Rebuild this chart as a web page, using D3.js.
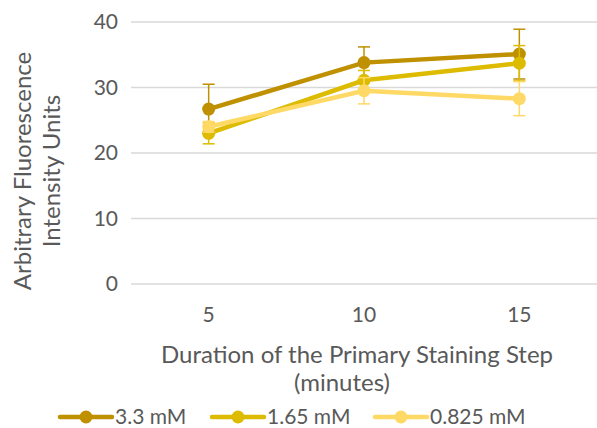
<!DOCTYPE html>
<html>
<head>
<meta charset="utf-8">
<script src="https://cdn.jsdelivr.net/npm/d3@7"></script>
<style>
body { margin: 0; background: #fff; }
text { font-family: Lato, "Open Sans", sans-serif; fill: #595959; }
</style>
</head>
<body>
<svg width="597" height="428"></svg>
<script>
// ================= DATA =================
const minutes = ["5", "10", "15"];
const seriesNames = ["3.3 mM", "1.65 mM", "0.825 mM"];
const values33 = [26.7, 33.8, 35.1];
const values165 = [23.0, 31.1, 33.7];
const values0825 = [24.0, 29.5, 28.3];
const err33 = [3.8, 2.4, 3.8];
const err165 = [1.6, 1.5, 2.7];
const err0825 = [0.8, 2.0, 2.6];
const yTicks = [0, 10, 20, 30, 40];
const colors = ["#bf9000", "#dcbb00", "#ffd966"];

const series = [
  { name: seriesNames[0], values: values33, err: err33, color: colors[0] },
  { name: seriesNames[1], values: values165, err: err165, color: colors[1] },
  { name: seriesNames[2], values: values0825, err: err0825, color: colors[2] }
];

// ================= LAYOUT =================
const svg = d3.select("svg");
const plotLeft = 131, plotRight = 597, plotTop = 22, plotBottom = 284;

const xs = d3.scaleBand().domain(minutes).range([plotLeft, plotRight]);
const ys = d3.scaleLinear().domain([0, 40]).range([plotBottom, plotTop]);
const cx = d => xs(d) + xs.bandwidth() / 2;

// gridlines
svg.append("g").selectAll("line")
  .data(yTicks).join("line")
  .attr("x1", plotLeft).attr("x2", plotRight)
  .attr("y1", d => ys(d)).attr("y2", d => ys(d))
  .attr("stroke", "#d9d9d9").attr("stroke-width", 1.3);

// y axis labels
const yAxis = svg.append("g")
  .attr("transform", "translate(" + (plotLeft - 13) + ",0)")
  .call(d3.axisLeft(ys).tickValues(yTicks).tickSize(0).tickPadding(0));
yAxis.select(".domain").remove();
yAxis.selectAll("text").attr("font-size", 21).style("font-family", "Lato, sans-serif").attr("fill", "#595959");

// x axis labels
const xAxis = svg.append("g")
  .attr("transform", "translate(0,307)")
  .call(d3.axisBottom(xs).tickSize(0).tickPadding(0));
xAxis.select(".domain").remove();
xAxis.selectAll("text").attr("font-size", 21).style("font-family", "Lato, sans-serif").attr("fill", "#595959");

// axis titles
svg.append("text")
  .attr("x", 357).attr("y", 363)
  .attr("text-anchor", "middle").attr("font-size", 24)
  .text("Duration of the Primary Staining Step");
svg.append("text")
  .attr("x", 342).attr("y", 391)
  .attr("text-anchor", "middle").attr("font-size", 24)
  .text("(minutes)");

const yTitle = svg.append("text")
  .attr("transform", "translate(0,171) rotate(-90)")
  .attr("text-anchor", "middle").attr("font-size", 24);
yTitle.append("tspan").attr("x", 0).attr("y", 31).text("Arbitrary Fluorescence");
yTitle.append("tspan").attr("x", 0).attr("y", 60).text("Intensity Units");

// ================= SERIES =================
const line = d3.line()
  .x((d, i) => cx(minutes[i]))
  .y(d => ys(d));

series.forEach(s => {
  const g = svg.append("g");
  // error bars
  const eb = g.selectAll(".eb").data(s.values).join("g");
  eb.append("line")
    .attr("x1", (d, i) => cx(minutes[i])).attr("x2", (d, i) => cx(minutes[i]))
    .attr("y1", (d, i) => ys(d - s.err[i])).attr("y2", (d, i) => ys(d + s.err[i]))
    .attr("stroke", s.color).attr("stroke-width", 1.5);
  [-1, 1].forEach(sign => {
    eb.append("line")
      .attr("x1", (d, i) => cx(minutes[i]) - 6).attr("x2", (d, i) => cx(minutes[i]) + 6)
      .attr("y1", (d, i) => ys(d + sign * s.err[i])).attr("y2", (d, i) => ys(d + sign * s.err[i]))
      .attr("stroke", s.color).attr("stroke-width", 1.5);
  });
  g.append("path")
    .datum(s.values)
    .attr("fill", "none")
    .attr("stroke", s.color)
    .attr("stroke-width", 4.5)
    .attr("stroke-linecap", "round")
    .attr("d", line);
  g.selectAll("circle").data(s.values).join("circle")
    .attr("cx", (d, i) => cx(minutes[i]))
    .attr("cy", d => ys(d))
    .attr("r", 6.5)
    .attr("fill", s.color);
});

// ================= LEGEND =================
const legendX = [60, 212, 375];
const legendY = 417;
const lg = svg.append("g").selectAll("g").data(series).join("g")
  .attr("transform", (d, i) => "translate(" + legendX[i] + "," + legendY + ")");
lg.append("line")
  .attr("x1", 0).attr("x2", 52)
  .attr("stroke", d => d.color).attr("stroke-width", 4.5).attr("stroke-linecap", "round");
lg.append("circle")
  .attr("cx", 26).attr("r", 6.5).attr("fill", d => d.color);
lg.append("text")
  .attr("x", 55).attr("dy", "0.35em").attr("font-size", 21)
  .text(d => d.name);
</script>
</body>
</html>
